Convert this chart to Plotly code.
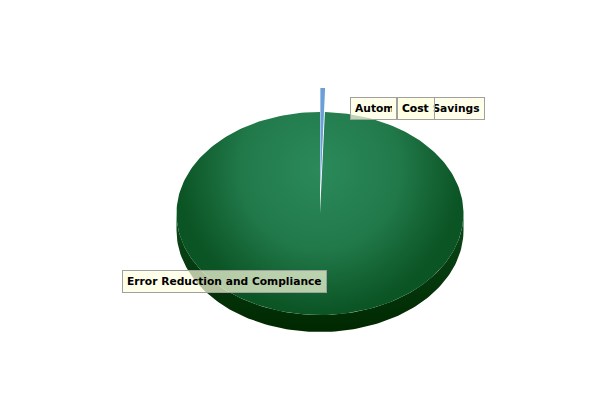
import numpy as np
import plotly.graph_objects as go

# ---- data ----
categories = ["Automation", "Cost Savings", "Cost", "Error Reduction and Compliance"]
values = [1.0, 0.02, 0.02, 190.0]
slice_colors = ["#6a9fd8", "#434348", "#90ed7d", "#1e7a45"]
sliced = [True, False, False, False]

# ---- geometry (layout) ----
W, H = 600, 400
PAGE = 8  # browser body margin, compensated in the axis ranges
cx, cy, rx, ry, depth = 320.0, 213.5, 143.5, 101.5, 17.0
slice_offset = 24.0
light_lift = 45.0  # moves the radial highlight of the top face upwards

total = float(sum(values))
spans = []
acc = 0.0
for v in values:
    a0 = acc
    a1 = acc + v / total * 2 * np.pi
    spans.append((a0, a1))
    acc = a1


def arc(a0, a1, dx=0.0, dy=0.0, n=240):
    t = np.linspace(a0, a1, max(2, int(n * (a1 - a0) / (2 * np.pi)) + 2))
    return cx + dx + rx * np.sin(t), cy + dy - ry * np.cos(t)


fig = go.Figure()

# side walls (front half only visible)
for (a0, a1), col in zip(spans, slice_colors):
    lo, hi = max(a0, np.pi / 2), min(a1, 3 * np.pi / 2)
    if hi <= lo:
        continue
    xs, ys = arc(lo, hi)
    px = np.concatenate([xs, xs[::-1]])
    py = np.concatenate([ys, ys[::-1] + depth])
    fig.add_trace(go.Scatter(
        x=px, y=py, mode="lines", fill="toself", line=dict(width=0),
        fillgradient=dict(type="vertical", start=cy, stop=cy + ry + depth,
                          colorscale=[[0, "#0b4a1c"], [1, "#002800"]]),
        hoverinfo="skip", showlegend=False))

# top faces
for (a0, a1), col, sl, name in zip(spans, slice_colors, sliced, categories):
    mid = (a0 + a1) / 2
    dx = slice_offset * np.sin(mid) if sl else 0.0
    dy = -slice_offset * np.cos(mid) if sl else 0.0
    xs, ys = arc(a0, a1, dx, dy)
    px = list(np.concatenate([[cx + dx], xs, [cx + dx]]))
    py = list(np.concatenate([[cy + dy], ys, [cy + dy]]))
    kw = {}
    if name == "Error Reduction and Compliance":
        # invisible, degenerate sub-path that lifts the gradient's bounding box
        top = cy - ry - 2 * light_lift
        px += [None, cx, cx + 0.01, cx]
        py += [None, top, top, top + 0.01]
        kw["fillgradient"] = dict(type="radial",
                                  colorscale=[[0, "#2b8a5a"], [0.55, "#21794a"],
                                              [0.85, "#125f2f"], [1, "#0b5424"]])
    else:
        kw["fillcolor"] = col
    fig.add_trace(go.Scatter(
        x=px, y=py, mode="lines", fill="toself", line=dict(width=0),
        name=name, hoverinfo="name", showlegend=False, **kw))

lab_font = dict(family="Verdana, DejaVu Sans, sans-serif", size=10.7, color="#000000")
box = dict(bgcolor="rgba(255,255,224,0.7)", bordercolor="#a0a0a0", borderwidth=1,
           borderpad=4, showarrow=False, xref="x", yref="y", xanchor="left",
           yanchor="middle", align="left", font=lab_font)

annotations = [
    dict(x=350, y=108, text="<b>" + categories[0] + "</b>", width=37, **box),
    dict(x=397, y=108, text="<b>" + categories[1] + "</b>", **box),
    dict(x=397, y=108, text="<b>" + categories[2] + "</b>", width=28, **box),
    dict(x=122, y=281, text="<b>" + categories[3] + "</b>", **box),
]

fig.update_layout(
    width=W, height=H, margin=dict(l=0, r=0, t=0, b=0),
    paper_bgcolor="white", plot_bgcolor="white",
    xaxis=dict(range=[PAGE, W + PAGE], visible=False, fixedrange=True),
    yaxis=dict(range=[H + PAGE, PAGE], visible=False, fixedrange=True),
    annotations=annotations, showlegend=False,
)

fig.write_html("out.html")
